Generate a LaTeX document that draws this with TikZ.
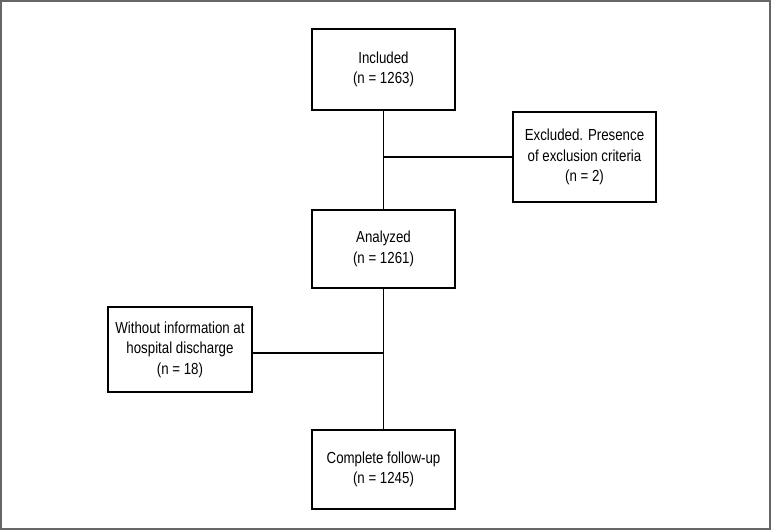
\documentclass[tikz,border=0pt]{standalone}
\usepackage{fontspec}
\setmainfont{Liberation Sans}[FakeStretch=0.83]
\usetikzlibrary{positioning,calc}

\begin{document}
\begin{tikzpicture}[
  x=1pt, y=-1pt,
  box/.style={draw, line width=1.6pt, minimum width=143pt, align=center, font=\fontsize{16}{20.5}\selectfont, inner sep=0pt},
  link/.style={line width=1.6pt}
]
\useasboundingbox (0,0) rectangle (771,530);
\draw[gray!80!black, line width=1.6pt] (0.8,0.8) rectangle (770.2,529.2);

\node[box, minimum height=81pt] (included) at (383.5,69.5) {Included\\(n = 1263)};
\node[box, minimum height=90pt] (excluded) at (584.5,157) {Excluded. Presence\\of exclusion criteria\\(n = 2)};
\node[box, minimum height=78pt] (analyzed) at (383.5,249) {Analyzed\\(n = 1261)};
\node[box, minimum height=85pt, minimum width=144pt] (without) at (180,349.5) {Without information at\\hospital discharge\\(n = 18)};
\node[box, minimum height=79pt] (complete) at (383.5,469.5) {Complete follow-up\\(n = 1245)};

\coordinate (exclJoin) at (included.south |- excluded.west);
\coordinate (withoutEnd) at ($(without.east)+(0,3.5)$);
\coordinate (withoutJoin) at (analyzed.south |- withoutEnd);

\draw[link] (included) -- (analyzed);
\draw[link] (exclJoin) -- (excluded.west);
\draw[link] (analyzed) -- (complete);
\draw[link] (withoutEnd) -- (withoutJoin);
\end{tikzpicture}
\end{document}
